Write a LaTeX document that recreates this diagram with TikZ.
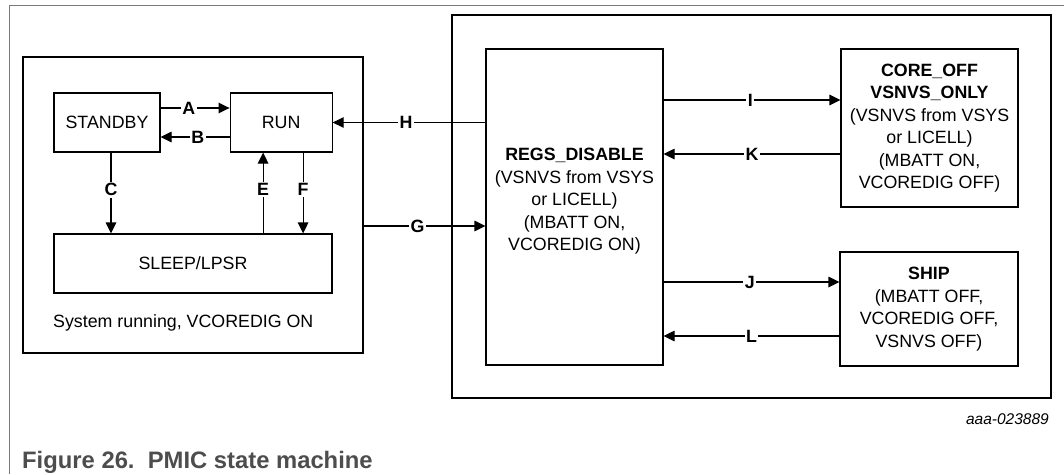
\documentclass[tikz,border=0pt]{standalone}
\usepackage{fontspec}
\setmainfont{Liberation Sans}
\usetikzlibrary{arrows.meta,positioning}
\definecolor{rule}{HTML}{7A7A7A}
\definecolor{capt}{HTML}{4D4D4D}

\begin{document}
\begin{tikzpicture}[x=1pt,y=-1pt, every node/.style={font=\fontsize{17.8}{22.5}\selectfont,align=center}, st/.style={draw,line width=1.1pt,inner sep=0pt}, fr/.style={draw,line width=2.4pt,inner sep=0pt}, a/.style={-{Triangle[length=11pt,width=10.5pt]},line width=1.1pt}, lab/.style={fill=white,inner sep=1.5pt,font=\fontsize{17.8}{20}\selectfont\bfseries}]
\useasboundingbox (0,0) rectangle (1064,474);
\draw[rule,line width=1pt] (9,474) -- (9,5) -- (1064,5);
% system running group
\node[fr,minimum width=340pt,minimum height=296pt] (left) at (193,205) {};
\node[st,minimum width=106pt,minimum height=59pt] (standby) at (107,122.5) {STANDBY};
\node[st,minimum width=102pt,minimum height=59pt,right=69pt of standby] (run) {RUN};
\node[st,minimum width=278pt,minimum height=59pt] (sleep) at (193,263.5) {SLEEP/LPSR};
\node[anchor=west,inner sep=0pt] (sys) at (53,323) {System running, VCOREDIG ON};
% low power group
\node[fr,minimum width=599pt,minimum height=383pt] (right) at (751.5,206.5) {};
\node[st,minimum width=177pt,minimum height=316pt] (regs) at (574.5,207) {\textbf{REGS\_DISABLE}\\(VSNVS from VSYS\\or LICELL)\\(MBATT ON,\\VCOREDIG ON)\\[-7.5pt]};
\node[st,minimum width=177pt,minimum height=158pt] (coreoff) at (929.5,128) {\textbf{CORE\_OFF}\\\textbf{VSNVS\_ONLY}\\(VSNVS from VSYS\\or LICELL)\\(MBATT ON,\\VCOREDIG OFF)};
\node[st,minimum width=178pt,minimum height=114pt] (ship) at (929,309) {\textbf{SHIP}\\(MBATT OFF,\\VCOREDIG OFF,\\VSNVS OFF)};
\node[anchor=east,inner sep=0pt,font=\fontsize{15.5}{18}\selectfont\itshape] (code) at (1049,419) {aaa-023889};
\node[anchor=west,inner sep=0pt,text=capt,font=\fontsize{23.8}{28}\selectfont\bfseries] (cap) at (22,462) {Figure 26.\ \ PMIC state machine};
% transitions
\coordinate (c) at ([xshift=4pt]standby.south);
\coordinate (e) at ([xshift=-18pt]run.south);
\coordinate (f) at ([xshift=22pt]run.south);
\coordinate (g) at ([yshift=-21pt]left.east);
\coordinate (i) at ([yshift=28pt]coreoff.west);
\coordinate (k) at ([yshift=-26pt]coreoff.west);
\coordinate (j) at ([yshift=27pt]ship.west);
\coordinate (l) at ([yshift=-27pt]ship.west);
\draw[a] ([yshift=14.5pt]standby.east) -- node[lab,pos=.41]{A} ([yshift=14.5pt]run.west);
\draw[a] ([yshift=-14.5pt]run.west) -- node[lab,pos=.46]{B} ([yshift=-14.5pt]standby.east);
\draw[a] (c) -- node[lab,pos=.46]{C} (c |- sleep.north);
\draw[a] (e |- sleep.north) -- node[lab,pos=.54]{E} (e);
\draw[a] (f) -- node[lab,pos=.46]{F} (f |- sleep.north);
\draw[a] (regs.west |- run.east) -- node[lab,pos=.52]{H} (run.east);
\draw[a] (g) -- node[lab,pos=.44]{G} (g -| regs.west);
\draw[a] (i -| regs.east) -- node[lab,pos=.49]{I} (i);
\draw[a] (k) -- node[lab,pos=.5]{K} (k -| regs.east);
\draw[a] (j -| regs.east) -- node[lab,pos=.49]{J} (j);
\draw[a] (l) -- node[lab,pos=.5]{L} (l -| regs.east);
\end{tikzpicture}
\end{document}
